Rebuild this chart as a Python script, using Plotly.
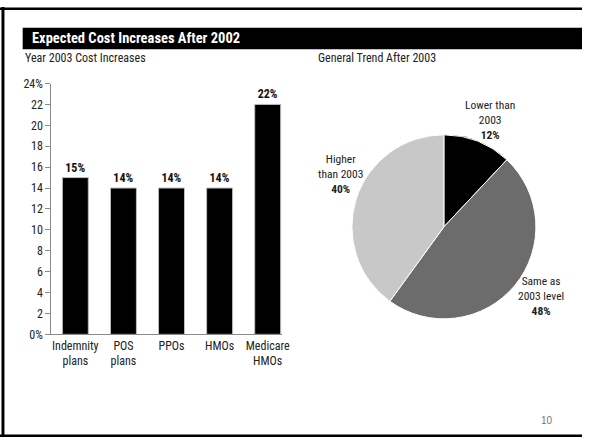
import plotly.graph_objects as go

W, H = 590, 444

# Bar chart data: 2003 cost increases by plan type
plan_types = ["Indemnity<br>plans", "POS<br>plans", "PPOs", "HMOs", "Medicare<br>HMOs"]
increase_2003 = [15, 14, 14, 14, 22]

# Pie data: general trend after 2003
trend_labels = ["Lower than 2003", "Same as 2003 level", "Higher than 2003"]
trend_shares = [12, 48, 40]
trend_colors = ["#000000", "#6c6c6c", "#c8c8c8"]

y_tick_vals = list(range(0, 25, 2))
y_tick_text = ["0%"] + [str(v) for v in y_tick_vals[1:-1]] + ["24%"]

FONT = "Liberation Sans Narrow, Arial Narrow, Roboto Condensed, Liberation Sans, sans-serif"


def px_x(x):
    return x / W


def px_y(y):
    return 1 - y / H


fig = go.Figure()

fig.add_trace(go.Bar(
    x=list(range(len(plan_types))),
    y=increase_2003,
    width=0.54,
    marker=dict(color="#000000", line=dict(color="#bdbdbd", width=1)),
    text=[f"<b>{v}%</b>" for v in increase_2003],
    textposition="outside",
    textfont=dict(family=FONT, size=12, color="#111111"),
    cliponaxis=False,
    hoverinfo="skip",
    showlegend=False,
))

fig.add_trace(go.Pie(
    labels=trend_labels,
    values=trend_shares,
    marker=dict(colors=trend_colors, line=dict(color="#ffffff", width=1)),
    sort=False,
    direction="clockwise",
    rotation=0,
    textinfo="none",
    hoverinfo="skip",
    showlegend=False,
    domain=dict(x=[px_x(355), px_x(545)], y=[px_y(322), px_y(132)]),
))

fig.update_layout(
    width=W, height=H,
    margin=dict(l=0, r=0, t=0, b=0),
    paper_bgcolor="#ffffff",
    plot_bgcolor="#ffffff",
    font=dict(family=FONT, size=12, color="#222222"),
    xaxis=dict(
        domain=[px_x(52), px_x(286)],
        range=[-0.5, 4.3],
        tickmode="array",
        tickvals=list(range(len(plan_types))),
        ticktext=plan_types,
        ticks="",
        showgrid=False,
        zeroline=False,
        showline=True,
        linecolor="#8a8a8a",
        linewidth=1,
        tickfont=dict(family=FONT, size=12, color="#222222"),
        fixedrange=True,
    ),
    yaxis=dict(
        domain=[px_y(338), px_y(79)],
        range=[0, 24],
        tickmode="array",
        tickvals=y_tick_vals,
        ticktext=y_tick_text,
        ticks="outside",
        ticklen=5,
        tickcolor="#8a8a8a",
        showgrid=False,
        zeroline=False,
        showline=True,
        linecolor="#8a8a8a",
        linewidth=1,
        tickfont=dict(family=FONT, size=12, color="#222222"),
        fixedrange=True,
    ),
)

shapes = [
    # page frame
    dict(type="rect", xref="paper", yref="paper", x0=px_x(1.5), x1=px_x(4.5),
         y0=0, y1=1, fillcolor="#000000", line=dict(width=0), layer="above"),
    dict(type="rect", xref="paper", yref="paper", x0=0, x1=1,
         y0=px_y(3), y1=px_y(0.5), fillcolor="#000000", line=dict(width=0), layer="above"),
    dict(type="rect", xref="paper", yref="paper", x0=0, x1=1,
         y0=px_y(444), y1=px_y(441.5), fillcolor="#000000", line=dict(width=0), layer="above"),
    # title band
    dict(type="rect", xref="paper", yref="paper", x0=px_x(23), x1=1,
         y0=px_y(43.5), y1=px_y(21.5), fillcolor="#000000", line=dict(width=0), layer="below"),
]
fig.update_layout(shapes=shapes)

annotations = [
    dict(text="<b>Expected Cost Increases After 2002</b>", x=px_x(30), y=px_y(32.5),
         xanchor="left", yanchor="middle", font=dict(family=FONT, size=14.5, color="#ffffff")),
    dict(text="Year 2003 Cost Increases", x=px_x(23), y=px_y(52.5),
         xanchor="left", yanchor="middle", font=dict(family=FONT, size=12, color="#222222")),
    dict(text="General Trend After 2003", x=px_x(320), y=px_y(52.5),
         xanchor="left", yanchor="middle", font=dict(family=FONT, size=12, color="#222222")),
    dict(text="Lower than<br>2003<br><b>12%</b>", x=px_x(497), y=px_y(117),
         xanchor="center", yanchor="middle", font=dict(family=FONT, size=11.5, color="#222222")),
    dict(text="Higher<br>than 2003<br><b>40%</b>", x=px_x(345), y=px_y(172),
         xanchor="center", yanchor="middle", font=dict(family=FONT, size=11.5, color="#222222")),
    dict(text="Same as<br>2003 level<br><b>48%</b>", x=px_x(548), y=px_y(298),
         xanchor="center", yanchor="middle", font=dict(family=FONT, size=11.5, color="#222222")),
    dict(text="10", x=px_x(555), y=px_y(427),
         xanchor="center", yanchor="middle", font=dict(family="Liberation Sans, sans-serif", size=10, color="#777777")),
]
for a in annotations:
    a.update(xref="paper", yref="paper", showarrow=False, align="center")
fig.update_layout(annotations=annotations)

# keep the page exactly the figure's size, with no scrollbars
page_css = (
    "document.documentElement.style.margin='0';"
    "document.documentElement.style.overflow='hidden';"
    "document.body.style.margin='0';"
    "document.body.style.overflow='hidden';"
)
fig.write_html("out.html", post_script=page_css)
